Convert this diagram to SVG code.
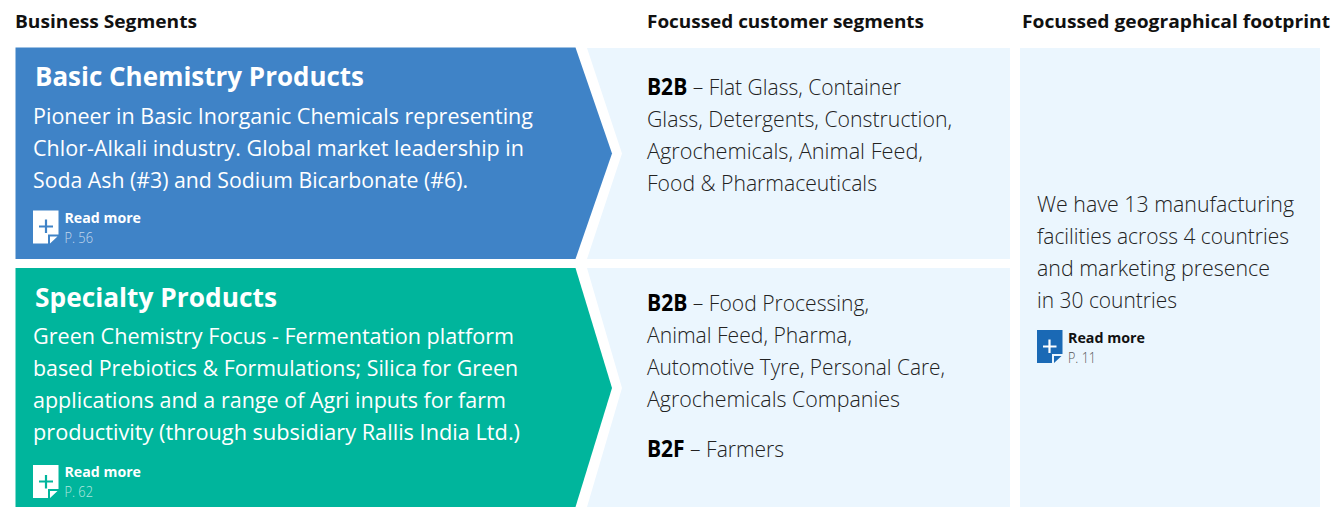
<svg xmlns="http://www.w3.org/2000/svg" width="1335" height="507" viewBox="0 0 1335 507">
<style>
text{font-family:"Open Sans","Noto Sans","Liberation Sans",sans-serif}
.h{font-size:18px;font-weight:700;fill:#111}
.t{font-weight:700;fill:#fff;font-size:27px}
.w{font-size:22.5px;fill:#fff;font-weight:400}
.d{font-size:22.5px;fill:#222;font-weight:300}
.b{font-weight:700;fill:#000}
.rw{font-size:14.5px;font-weight:700;fill:#fff}
.rd{font-size:14.5px;font-weight:700;fill:#111}
.pw{font-size:14px;font-weight:300;fill:#fff;fill-opacity:.7}
.pd{font-size:14px;font-weight:300;fill:#555}
.p{fill:none;stroke-width:2.200}
</style>
<defs>
<path id="doc" d="M0 0H25.500V24H15V33H0ZM17 26H24.500L17 33Z"/>
</defs>
<rect width="1335" height="507" fill="#fff"/>
<g id="headers">
<text class="h" x="15" y="28" textLength="182" lengthAdjust="spacingAndGlyphs">Business Segments</text>
<text class="h" x="647" y="28" textLength="277" lengthAdjust="spacingAndGlyphs">Focussed customer segments</text>
<text class="h" x="1022" y="28" textLength="308" lengthAdjust="spacingAndGlyphs">Focussed geographical footprint</text>
</g>
<g id="basic-chemistry">
<path d="M15.500 47.500H575.500L612 153.500L575.500 259H15.500Z" fill="#3f83c7"/>
<text class="t" x="35" y="86" textLength="329" lengthAdjust="spacingAndGlyphs">Basic Chemistry Products</text>
<text class="w" x="33" y="124" textLength="500" lengthAdjust="spacingAndGlyphs">Pioneer in Basic Inorganic Chemicals representing</text>
<text class="w" x="33" y="156" textLength="491" lengthAdjust="spacingAndGlyphs">Chlor-Alkali industry. Global market leadership in</text>
<text class="w" x="33" y="188" textLength="435" lengthAdjust="spacingAndGlyphs">Soda Ash (#3) and Sodium Bicarbonate (#6).</text>
<use href="#doc" x="33" y="210.500" fill="#fff"/>
<path class="p" d="M46 219.500V233M39 226.500H53" stroke="#3f83c7"/>
<text class="rw" x="64.500" y="223" textLength="76.500" lengthAdjust="spacingAndGlyphs">Read more</text>
<text class="pw" x="64.500" y="243" textLength="28.500" lengthAdjust="spacingAndGlyphs">P. 56</text>
</g>
<g id="specialty">
<path d="M15.500 268H575.500L612 388L575.500 507H15.500Z" fill="#00b59c"/>
<text class="t" x="35" y="307" textLength="242" lengthAdjust="spacingAndGlyphs">Specialty Products</text>
<text class="w" x="33" y="344" textLength="481" lengthAdjust="spacingAndGlyphs">Green Chemistry Focus - Fermentation platform</text>
<text class="w" x="33" y="376" textLength="485" lengthAdjust="spacingAndGlyphs">based Prebiotics &amp; Formulations; Silica for Green</text>
<text class="w" x="33" y="408" textLength="473" lengthAdjust="spacingAndGlyphs">applications and a range of Agri inputs for farm</text>
<text class="w" x="33" y="440" textLength="487" lengthAdjust="spacingAndGlyphs">productivity (through subsidiary Rallis India Ltd.)</text>
<use href="#doc" x="33" y="465" fill="#fff"/>
<path class="p" d="M46 475V488.500M39 481.500H53" stroke="#00b59c"/>
<text class="rw" x="64.500" y="477" textLength="76.500" lengthAdjust="spacingAndGlyphs">Read more</text>
<text class="pw" x="64.500" y="497" textLength="28.500" lengthAdjust="spacingAndGlyphs">P. 62</text>
</g>
<g id="customers-basic">
<path d="M587 48H1010V259H587L622 153.500Z" fill="#ebf6fe"/>
<text class="d" x="647" y="95" textLength="254" lengthAdjust="spacingAndGlyphs"><tspan class="b">B2B</tspan> – Flat Glass, Container</text>
<text class="d" x="647" y="127" textLength="305" lengthAdjust="spacingAndGlyphs">Glass, Detergents, Construction,</text>
<text class="d" x="647" y="159" textLength="276" lengthAdjust="spacingAndGlyphs">Agrochemicals, Animal Feed,</text>
<text class="d" x="647" y="191" textLength="230" lengthAdjust="spacingAndGlyphs">Food &amp; Pharmaceuticals</text>
</g>
<g id="customers-specialty">
<path d="M587 268H1010V507H587L622 388Z" fill="#ebf6fe"/>
<text class="d" x="647" y="311" textLength="222" lengthAdjust="spacingAndGlyphs"><tspan class="b">B2B</tspan> – Food Processing,</text>
<text class="d" x="647" y="343" textLength="205" lengthAdjust="spacingAndGlyphs">Animal Feed, Pharma,</text>
<text class="d" x="647" y="375" textLength="298" lengthAdjust="spacingAndGlyphs">Automotive Tyre, Personal Care,</text>
<text class="d" x="647" y="407" textLength="253" lengthAdjust="spacingAndGlyphs">Agrochemicals Companies</text>
<text class="d" x="647" y="457" textLength="137" lengthAdjust="spacingAndGlyphs"><tspan class="b">B2F</tspan> – Farmers</text>
</g>
<g id="geography">
<rect x="1020" y="48" width="300" height="459" fill="#ebf6fe"/>
<text class="d" x="1037" y="212" textLength="257" lengthAdjust="spacingAndGlyphs">We have 13 manufacturing</text>
<text class="d" x="1037" y="244" textLength="252" lengthAdjust="spacingAndGlyphs">facilities across 4 countries</text>
<text class="d" x="1037" y="276" textLength="233" lengthAdjust="spacingAndGlyphs">and marketing presence</text>
<text class="d" x="1037" y="308" textLength="140" lengthAdjust="spacingAndGlyphs">in 30 countries</text>
<use href="#doc" x="1037" y="330" fill="#1a69b5"/>
<path class="p" d="M1049.500 339.500V353M1043 346.500H1056.500" stroke="#fff"/>
<text class="rd" x="1068" y="343" textLength="77" lengthAdjust="spacingAndGlyphs">Read more</text>
<text class="pd" x="1068" y="363" textLength="28" lengthAdjust="spacingAndGlyphs">P. 11</text>
</g>
</svg>
